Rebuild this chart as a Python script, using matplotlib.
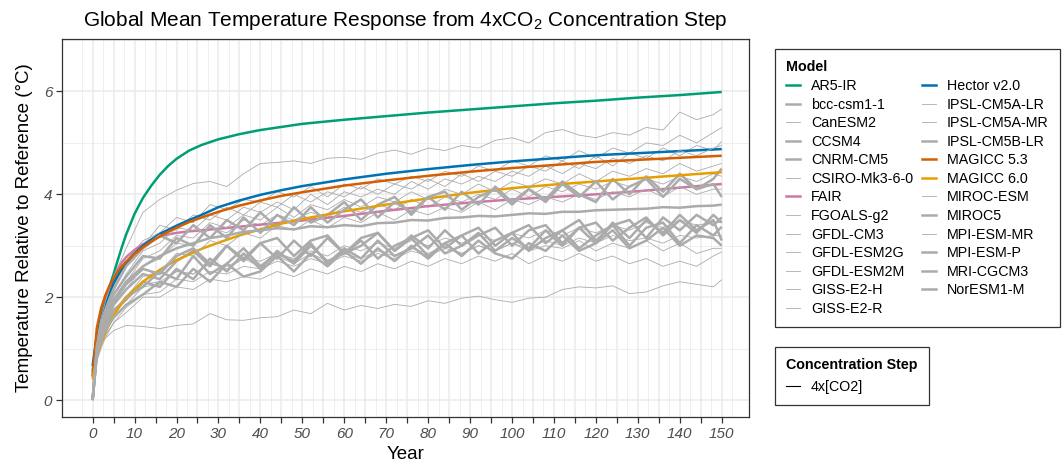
import matplotlib
matplotlib.use("Agg")
import matplotlib.pyplot as plt
from matplotlib.lines import Line2D
from matplotlib.ticker import FixedLocator

plt.rcParams['font.family'] = ['Liberation Sans', 'DejaVu Sans']
plt.rcParams['mathtext.fontset'] = 'custom'
plt.rcParams['mathtext.rm'] = 'Liberation Sans'
plt.rcParams['mathtext.it'] = 'Liberation Sans:italic'

# ---------------- data ----------------
# smooth simple-model curves
years_smooth = [0, 1, 2, 3, 4, 5, 6, 7, 8, 10, 12, 14, 16, 18, 20, 23, 26, 30, 35, 40, 45, 50,
                60, 70, 80, 90, 100, 110, 120, 130, 140, 150]
ar5_ir = [0.55, 1.25, 1.65, 1.95, 2.2, 2.45, 2.72, 2.98, 3.22, 3.62, 3.93, 4.17, 4.38, 4.55, 4.69,
          4.85, 4.96, 5.07, 5.17, 5.25, 5.31, 5.37, 5.45, 5.52, 5.59, 5.65, 5.71, 5.77, 5.82, 5.88,
          5.93, 5.99]
hector = [0.66, 1.25, 1.6, 1.87, 2.08, 2.27, 2.42, 2.55, 2.66, 2.85, 3.0, 3.12, 3.23, 3.31, 3.39,
          3.5, 3.6, 3.75, 3.88, 3.99, 4.08, 4.16, 4.29, 4.4, 4.49, 4.57, 4.64, 4.7, 4.76, 4.8, 4.84,
          4.88]
magicc53 = [0.46, 1.4, 1.78, 2.03, 2.22, 2.37, 2.5, 2.6, 2.69, 2.84, 2.97, 3.08, 3.18, 3.27, 3.35,
            3.46, 3.55, 3.66, 3.78, 3.88, 3.97, 4.04, 4.17, 4.27, 4.36, 4.44, 4.51, 4.57, 4.63,
            4.67, 4.71, 4.75]
fair = [0.45, 1.2, 1.6, 1.9, 2.15, 2.37, 2.55, 2.68, 2.78, 2.92, 3.03, 3.12, 3.18, 3.22, 3.25,
        3.28, 3.3, 3.33, 3.37, 3.41, 3.45, 3.49, 3.58, 3.68, 3.77, 3.84, 3.9, 3.95, 4.0, 4.06,
        4.13, 4.2]
magicc60 = [0.4, 0.85, 1.1, 1.3, 1.48, 1.63, 1.77, 1.89, 2.0, 2.16, 2.3, 2.42, 2.53, 2.63, 2.72,
            2.83, 2.94, 3.06, 3.2, 3.32, 3.43, 3.52, 3.67, 3.8, 3.92, 4.03, 4.12, 4.19, 4.25,
            4.31, 4.37, 4.43]

# CMIP5 model responses (read at coarser steps)
years_cmip = [0, 1, 2, 3, 5, 8, 12, 16, 20, 24, 28, 32, 36, 40, 44, 48, 52, 56, 60, 64, 68, 72,
              76, 80, 84, 88, 92, 96, 100, 104, 108, 112, 116, 120, 124, 128, 132, 136, 140, 144,
              148, 150]

bcc_csm1_1 = [0, 0.95, 1.3, 1.5, 1.85, 2.15, 2.45, 2.35, 2.7, 2.9, 2.6, 3.0, 2.7, 3.05, 2.75, 3.1,
              2.8, 3.15, 2.85, 3.0, 3.25, 2.9, 3.15, 3.3, 2.95, 3.2, 3.35, 3.0, 3.25, 3.4, 3.05,
              3.3, 3.5, 3.1, 3.4, 3.5, 3.15, 3.55, 3.3, 3.6, 3.4, 3.55]
canesm2 = [0, 1.0, 1.45, 1.75, 2.2, 2.7, 3.1, 3.25, 3.55, 3.45, 3.8, 3.7, 3.9, 3.85, 4.05, 3.95,
           4.15, 3.95, 4.2, 4.1, 4.3, 4.2, 4.35, 4.25, 4.45, 4.35, 4.55, 4.45, 4.65, 4.55, 4.75,
           4.65, 4.85, 4.7, 4.9, 4.8, 5.0, 4.95, 5.15, 5.0, 5.2, 5.3]
ccsm4 = [0, 0.9, 1.2, 1.45, 1.75, 1.95, 2.3, 2.2, 2.55, 2.35, 2.75, 2.5, 2.85, 2.55, 2.9, 2.65,
         3.0, 2.7, 2.85, 3.1, 2.75, 3.0, 3.15, 2.8, 3.05, 3.2, 2.85, 3.1, 3.25, 2.9, 3.15, 3.3,
         2.95, 3.2, 3.4, 3.0, 3.35, 3.45, 3.05, 3.4, 3.2, 3.37]
cnrm_cm5 = [0, 0.9, 1.25, 1.4, 1.7, 2.0, 2.2, 2.5, 2.35, 2.8, 2.45, 2.65, 2.95, 2.6, 2.85, 2.7,
            3.05, 2.65, 2.95, 2.75, 3.1, 2.8, 2.95, 3.2, 2.85, 3.0, 3.25, 2.9, 3.15, 2.95, 3.3,
            3.0, 3.35, 3.05, 3.45, 3.15, 3.5, 3.25, 3.6, 3.3, 3.5, 3.1]
csiro_mk3_6_0 = [0, 0.9, 1.25, 1.5, 1.85, 2.15, 2.6, 2.75, 3.05, 3.0, 3.35, 3.25, 3.5, 3.4, 3.6,
                 3.5, 3.65, 3.55, 3.75, 3.65, 3.8, 3.7, 3.9, 3.75, 3.95, 3.85, 4.0, 3.9, 4.1,
                 3.95, 4.15, 4.05, 4.2, 4.1, 4.25, 4.15, 4.3, 4.2, 4.35, 4.25, 4.4, 4.35]
fgoals_g2 = [0, 0.75, 1.0, 1.2, 1.5, 1.7, 2.0, 2.0, 2.2, 2.15, 2.35, 2.3, 2.4, 2.35, 2.5, 2.4,
             2.55, 2.45, 2.6, 2.5, 2.65, 2.55, 2.7, 2.6, 2.75, 2.65, 2.8, 2.7, 2.85, 2.65, 2.8,
             2.7, 2.85, 2.7, 2.8, 2.65, 2.75, 2.6, 2.7, 2.6, 2.8, 2.88]
gfdl_cm3 = [0, 1.05, 1.5, 1.8, 2.3, 2.75, 3.0, 3.4, 3.3, 3.6, 3.5, 3.75, 3.6, 3.85, 3.75, 4.0,
            3.85, 4.05, 3.95, 4.15, 4.0, 4.2, 4.1, 4.3, 4.15, 4.4, 4.25, 4.45, 4.35, 4.55, 4.45,
            4.65, 4.5, 4.75, 4.55, 4.8, 4.7, 4.9, 4.75, 4.95, 4.85, 5.03]
gfdl_esm2g = [0, 0.85, 1.15, 1.35, 1.65, 1.95, 2.25, 2.3, 2.5, 2.45, 2.65, 2.55, 2.75, 2.6, 2.8,
              2.65, 2.85, 2.7, 2.85, 2.75, 2.9, 2.8, 2.95, 2.85, 3.0, 2.85, 3.0, 2.9, 3.05, 2.9,
              3.0, 2.95, 3.1, 2.9, 3.05, 2.95, 3.1, 2.9, 3.05, 2.85, 2.95, 2.95]
gfdl_esm2m = [0, 0.9, 1.1, 1.2, 1.35, 1.45, 1.43, 1.39, 1.45, 1.48, 1.68, 1.56, 1.55, 1.6, 1.62,
              1.75, 1.68, 1.88, 1.75, 1.84, 1.78, 1.86, 1.82, 1.93, 1.88, 1.98, 2.02, 1.95, 1.9,
              1.98, 2.0, 2.15, 2.2, 2.18, 2.22, 2.07, 2.1, 2.22, 2.3, 2.25, 2.2, 2.34]
giss_e2_h = [0, 0.8, 1.1, 1.3, 1.6, 1.85, 2.2, 2.25, 2.5, 2.45, 2.65, 2.6, 2.75, 2.7, 2.85, 2.75,
             2.9, 2.8, 3.0, 2.9, 3.05, 2.95, 3.1, 3.0, 3.15, 3.05, 3.2, 3.1, 3.25, 3.15, 3.3, 3.2,
             3.35, 3.25, 3.4, 3.3, 3.45, 3.35, 3.5, 3.4, 3.45, 3.45]
giss_e2_r = [0, 0.8, 1.05, 1.25, 1.5, 1.8, 2.05, 2.1, 2.35, 2.3, 2.5, 2.45, 2.6, 2.55, 2.7, 2.6,
             2.75, 2.65, 2.8, 2.7, 2.85, 2.75, 2.9, 2.8, 2.95, 2.85, 3.0, 2.9, 3.05, 2.95, 3.1,
             3.0, 3.15, 3.05, 3.2, 3.1, 3.15, 3.05, 3.2, 3.15, 3.2, 3.2]
ipsl_cm5a_lr = [0, 0.95, 1.35, 1.6, 2.05, 2.45, 2.9, 3.05, 3.35, 3.3, 3.6, 3.5, 3.75, 3.65, 3.85,
                3.7, 4.0, 3.8, 4.05, 3.95, 4.1, 4.0, 4.25, 4.1, 4.3, 4.2, 4.35, 4.25, 4.45, 4.35,
                4.55, 4.4, 4.6, 4.5, 4.7, 4.6, 4.75, 4.65, 4.85, 4.75, 4.9, 4.95]
ipsl_cm5a_mr = [0, 1.1, 1.6, 1.9, 2.4, 2.95, 3.65, 3.9, 4.08, 4.21, 4.25, 4.15, 4.4, 4.6, 4.62,
                4.65, 4.6, 4.7, 4.72, 4.68, 4.8, 4.86, 4.78, 4.9, 4.85, 4.95, 4.9, 5.05, 5.1, 5.0,
                5.2, 5.26, 5.15, 5.1, 5.2, 5.15, 5.3, 5.25, 5.6, 5.45, 5.55, 5.66]
ipsl_cm5b_lr = [0, 1.1, 1.5, 1.75, 2.15, 2.6, 2.95, 3.2, 3.05, 3.4, 3.15, 3.5, 3.3, 3.65, 3.35,
                3.75, 3.45, 3.6, 3.85, 3.5, 3.8, 3.95, 3.6, 3.95, 3.7, 4.05, 3.8, 4.15, 3.85, 4.1,
                3.9, 4.25, 4.0, 3.85, 4.3, 4.0, 4.35, 4.05, 4.4, 4.1, 4.3, 4.5]
miroc_esm = [0, 0.9, 1.3, 1.55, 1.95, 2.3, 2.75, 2.9, 3.2, 3.15, 3.45, 3.35, 3.6, 3.5, 3.75, 3.55,
             3.8, 3.7, 3.9, 3.75, 3.95, 3.85, 4.05, 3.9, 4.1, 4.0, 4.2, 4.05, 4.25, 4.15, 4.3, 4.2,
             4.4, 4.25, 4.45, 4.35, 4.5, 4.4, 4.6, 4.45, 4.55, 4.6]
miroc5 = [0, 1.0, 1.35, 1.6, 1.95, 2.3, 2.6, 2.8, 2.95, 3.05, 3.15, 3.2, 3.27, 3.3, 3.34, 3.32,
          3.38, 3.36, 3.4, 3.38, 3.44, 3.45, 3.5, 3.49, 3.54, 3.55, 3.58, 3.57, 3.6, 3.63, 3.62,
          3.66, 3.66, 3.69, 3.7, 3.71, 3.72, 3.75, 3.74, 3.77, 3.78, 3.8]
mpi_esm_mr = [0, 0.85, 1.2, 1.4, 1.75, 2.0, 2.4, 2.5, 2.85, 2.8, 3.1, 3.0, 3.25, 3.15, 3.4, 3.3,
              3.5, 3.35, 3.55, 3.45, 3.65, 3.5, 3.7, 3.6, 3.75, 3.65, 3.85, 3.7, 3.9, 3.8, 3.95,
              3.85, 4.0, 3.9, 4.05, 3.95, 4.1, 3.95, 4.15, 4.0, 4.1, 4.1]
mpi_esm_p = [0, 1.05, 1.45, 1.7, 2.05, 2.4, 2.8, 2.75, 3.15, 3.0, 3.4, 3.15, 3.55, 3.25, 3.6, 3.4,
             3.75, 3.45, 3.7, 3.9, 3.55, 3.85, 3.65, 3.95, 4.05, 3.7, 3.95, 4.1, 3.8, 4.1, 3.85,
             4.2, 3.95, 4.25, 3.9, 4.15, 4.3, 3.95, 4.3, 4.1, 4.2, 3.95]
mri_cgcm3 = [0, 0.85, 1.15, 1.35, 1.6, 1.85, 2.05, 2.3, 2.2, 2.55, 2.3, 2.65, 2.4, 2.5, 2.8, 2.5,
             2.85, 2.6, 2.9, 2.65, 2.95, 2.7, 3.0, 2.75, 3.05, 2.8, 3.1, 2.85, 2.75, 3.05, 2.9,
             3.2, 2.9, 3.05, 3.3, 2.95, 3.1, 3.35, 3.0, 3.2, 3.15, 3.0]
noresm1_m = [0, 0.95, 1.3, 1.55, 1.9, 2.25, 2.55, 2.45, 2.8, 2.95, 2.65, 3.0, 2.75, 3.05, 3.15,
             2.8, 3.1, 3.2, 2.85, 3.15, 3.25, 2.9, 3.2, 2.95, 3.3, 3.0, 3.2, 3.35, 3.0, 3.3, 3.4,
             3.05, 3.35, 3.45, 3.1, 3.35, 3.55, 3.2, 3.5, 3.25, 3.6, 3.45]

x_breaks = list(range(0, 151, 5))
x_labels = [str(v) if v % 10 == 0 else "" for v in x_breaks]
y_breaks = [0, 2, 4, 6]

# ---------------- styles ----------------
GREY = "#ababab"
THICK = 1.8
THIN = 0.6

# legend order (alphabetical like the source)
series = [
    ("AR5-IR", years_smooth, ar5_ir, "#009E73", THICK),
    ("bcc-csm1-1", years_cmip, bcc_csm1_1, GREY, THICK),
    ("CanESM2", years_cmip, canesm2, GREY, THIN),
    ("CCSM4", years_cmip, ccsm4, GREY, THICK),
    ("CNRM-CM5", years_cmip, cnrm_cm5, GREY, THICK),
    ("CSIRO-Mk3-6-0", years_cmip, csiro_mk3_6_0, GREY, THIN),
    ("FAIR", years_smooth, fair, "#CC79A7", THICK),
    ("FGOALS-g2", years_cmip, fgoals_g2, GREY, THIN),
    ("GFDL-CM3", years_cmip, gfdl_cm3, GREY, THIN),
    ("GFDL-ESM2G", years_cmip, gfdl_esm2g, GREY, THIN),
    ("GFDL-ESM2M", years_cmip, gfdl_esm2m, GREY, THIN),
    ("GISS-E2-H", years_cmip, giss_e2_h, GREY, THIN),
    ("GISS-E2-R", years_cmip, giss_e2_r, GREY, THIN),
    ("Hector v2.0", years_smooth, hector, "#0072B2", THICK),
    ("IPSL-CM5A-LR", years_cmip, ipsl_cm5a_lr, GREY, THIN),
    ("IPSL-CM5A-MR", years_cmip, ipsl_cm5a_mr, GREY, THIN),
    ("IPSL-CM5B-LR", years_cmip, ipsl_cm5b_lr, GREY, THICK),
    ("MAGICC 5.3", years_smooth, magicc53, "#D55E00", THICK),
    ("MAGICC 6.0", years_smooth, magicc60, "#E69F00", THICK),
    ("MIROC-ESM", years_cmip, miroc_esm, GREY, THIN),
    ("MIROC5", years_cmip, miroc5, GREY, THICK),
    ("MPI-ESM-MR", years_cmip, mpi_esm_mr, GREY, THIN),
    ("MPI-ESM-P", years_cmip, mpi_esm_p, GREY, THICK),
    ("MRI-CGCM3", years_cmip, mri_cgcm3, GREY, THICK),
    ("NorESM1-M", years_cmip, noresm1_m, GREY, THICK),
]

W, H = 1062, 469
fig = plt.figure(figsize=(W / 100, H / 100), dpi=100)
L, R, T, B = 62, 749, 39, 417
ax = fig.add_axes([L / W, 1 - B / H, (R - L) / W, (B - T) / H])

for i, (name, xs, ys, col, lw) in enumerate(series):
    ax.plot(xs, ys, color=col, lw=lw, solid_joinstyle="round", solid_capstyle="butt",
            zorder=2 + i * 0.01)

ax.set_xlim(-7.3, 156.5)
ax.set_ylim(-0.33, 7.02)

ax.xaxis.set_major_locator(FixedLocator(x_breaks))
ax.set_xticklabels(x_labels)
ax.xaxis.set_minor_locator(FixedLocator([v + 2.5 for v in range(-5, 156, 5)]))
ax.yaxis.set_major_locator(FixedLocator(y_breaks))
ax.yaxis.set_minor_locator(FixedLocator([1, 3, 5, 7]))

ax.grid(True, which="major", color="#ebebeb", lw=1.1, zorder=0)
ax.grid(True, which="minor", color="#ebebeb", lw=0.55, zorder=0)
ax.set_axisbelow(True)

for s in ax.spines.values():
    s.set_color("#333333")
    s.set_linewidth(0.9)

ax.tick_params(axis="both", which="major", length=4, width=0.9, color="#333333",
               labelsize=11, labelcolor="#4d4d4d", pad=3)
ax.tick_params(axis="both", which="minor", length=0)
for lab in ax.get_xticklabels() + ax.get_yticklabels():
    lab.set_fontstyle("italic")

ax.set_xlabel("Year", fontsize=13.5, labelpad=4)
ax.set_ylabel("Temperature Relative to Reference (°C)", fontsize=13.5, labelpad=8)
ax.set_title("Global Mean Temperature Response from 4xCO$_2$ Concentration Step",
             fontsize=15, pad=9)

# legends
handles = [Line2D([], [], color=col, lw=lw) for (_, _, _, col, lw) in series]
labels = [s[0] for s in series]
leg1 = fig.legend(handles, labels, title="Model", ncol=2, loc="upper left",
                  bbox_to_anchor=(775 / W, 1 - 49 / H), borderaxespad=0,
                  fontsize=10.3, title_fontproperties={"weight": "bold", "size": 10.3},
                  frameon=True, fancybox=False, edgecolor="#333333", framealpha=1,
                  handlelength=0.95, handletextpad=0.75, columnspacing=0.65,
                  labelspacing=0.32, borderpad=0.8, alignment="left")
leg1.get_frame().set_linewidth(0.9)

h2 = [Line2D([], [], color="black", lw=0.8)]
leg2 = fig.legend(h2, ["4x[CO2]"], title="Concentration Step", loc="upper left",
                  bbox_to_anchor=(775 / W, 1 - 347 / H), borderaxespad=0,
                  fontsize=10.3, title_fontproperties={"weight": "bold", "size": 10.3},
                  frameon=True, fancybox=False, edgecolor="#333333", framealpha=1,
                  handlelength=0.95, handletextpad=0.75, borderpad=0.8, alignment="left")
leg2.get_frame().set_linewidth(0.9)

fig.savefig("out.png", dpi=100)
